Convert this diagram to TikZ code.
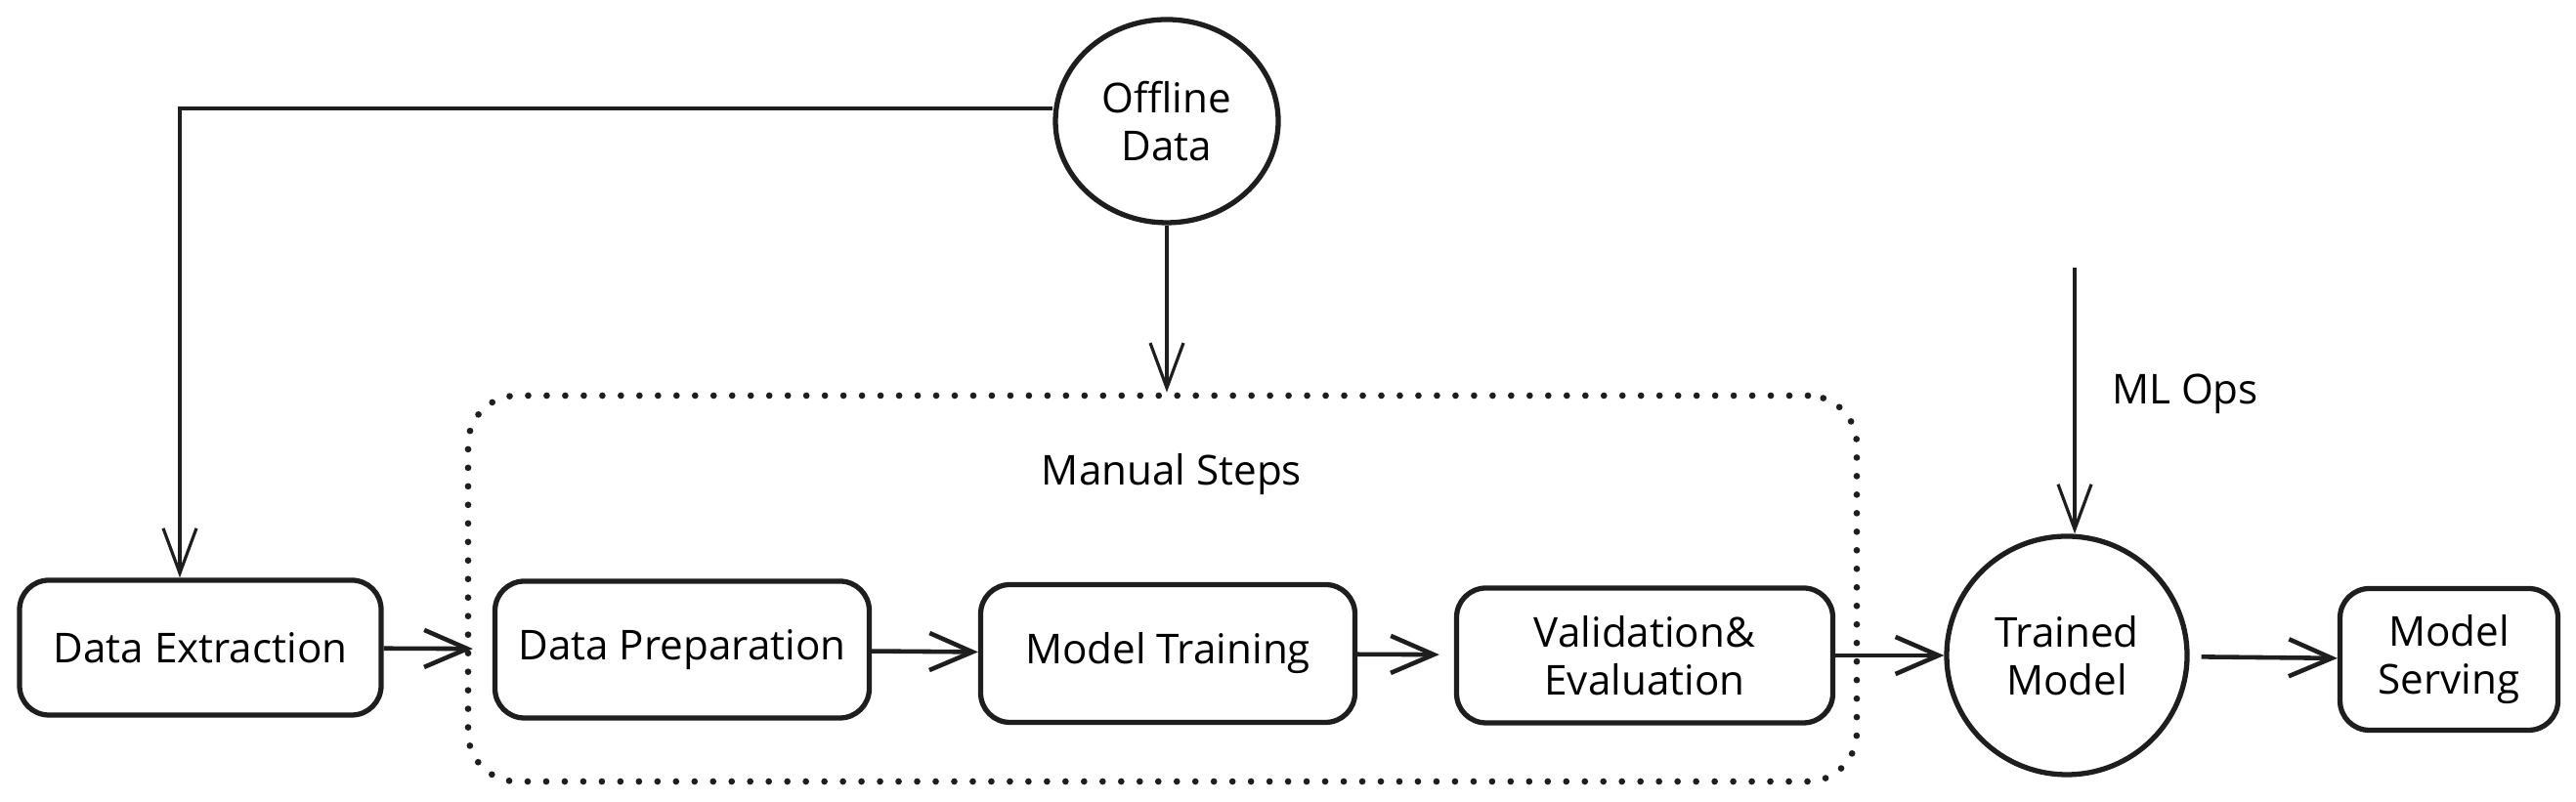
\documentclass[tikz,border=0pt]{standalone}
\usepackage{fontspec}
\setmainfont{Open Sans}
\usetikzlibrary{arrows.meta,shapes.geometric}
\definecolor{skink}{RGB}{30,30,30}

\begin{document}
\begin{tikzpicture}[
  font=\fontsize{12}{14}\selectfont,
  stepbox/.style={draw=skink, line width=1.5pt, rounded corners=0.3cm, align=center, inner sep=0pt},
  roundnode/.style={draw=skink, line width=1.5pt, ellipse, align=center, inner sep=0pt},
  flow/.style={draw=skink, line width=1.3pt, -{Straight Barb[length=4.4mm,width=3.8mm]}},
  longflow/.style={draw=skink, line width=0.9pt, -{Straight Barb[length=4.6mm,width=3.4mm]}}
]
\useasboundingbox (0,0) rectangle (26.36,8.21);

% Manual steps frame
\node[draw=skink, line width=1.9pt, line cap=round, dash pattern=on 0pt off 5.4pt,
  rounded corners=0.5cm, minimum width=14.21cm, minimum height=3.95cm] (manual) at (11.895,2.185) {};
\node (manuallbl) at (11.99,3.35) {Manual Steps};

% Pipeline steps
\node[stepbox, minimum width=3.70cm, minimum height=1.38cm] (extract) at (2.05,1.58) {Data Extraction};
\node[stepbox, minimum width=3.83cm, minimum height=1.40cm] (prep) at (6.98,1.56) {Data Preparation};
\node[stepbox, minimum width=3.83cm, minimum height=1.41cm] (train) at (11.95,1.52) {Model Training};
\node[stepbox, minimum width=3.85cm, minimum height=1.38cm] (valid) at (16.83,1.50) {Validation\&\\Evaluation};
\node[roundnode, minimum width=2.46cm, minimum height=2.44cm] (trained) at (21.15,1.50) {Trained\\Model};
\node[stepbox, minimum width=2.23cm, minimum height=1.45cm] (serve) at (25.06,1.46) {Model\\Serving};

% Data source
\node[roundnode, minimum width=2.28cm, minimum height=2.08cm] (offline) at (11.94,6.97) {Offline\\Data};

% ML Ops input
\coordinate (opsin) at (21.23,5.47);
\node (opslbl) at (22.36,4.18) {ML Ops};

% Connectors
\draw[flow, shorten >=0.2cm] (extract) -- (prep);
\draw[flow] (prep) -- (train);
\draw[flow, shorten >=0.15cm] (train) -- (valid);
\draw[flow] (valid) -- (trained);
\draw[flow, shorten <=0.12cm] (trained) -- (serve);

\coordinate (bend) at (1.84,7.10);
\draw[longflow] (offline.west |- bend) -- (bend) -- (bend |- extract.north);
\draw[longflow] (offline.south) -- (offline.south |- manual.north);
\draw[longflow] (opsin) -- (opsin |- trained.north);

\end{tikzpicture}
\end{document}
